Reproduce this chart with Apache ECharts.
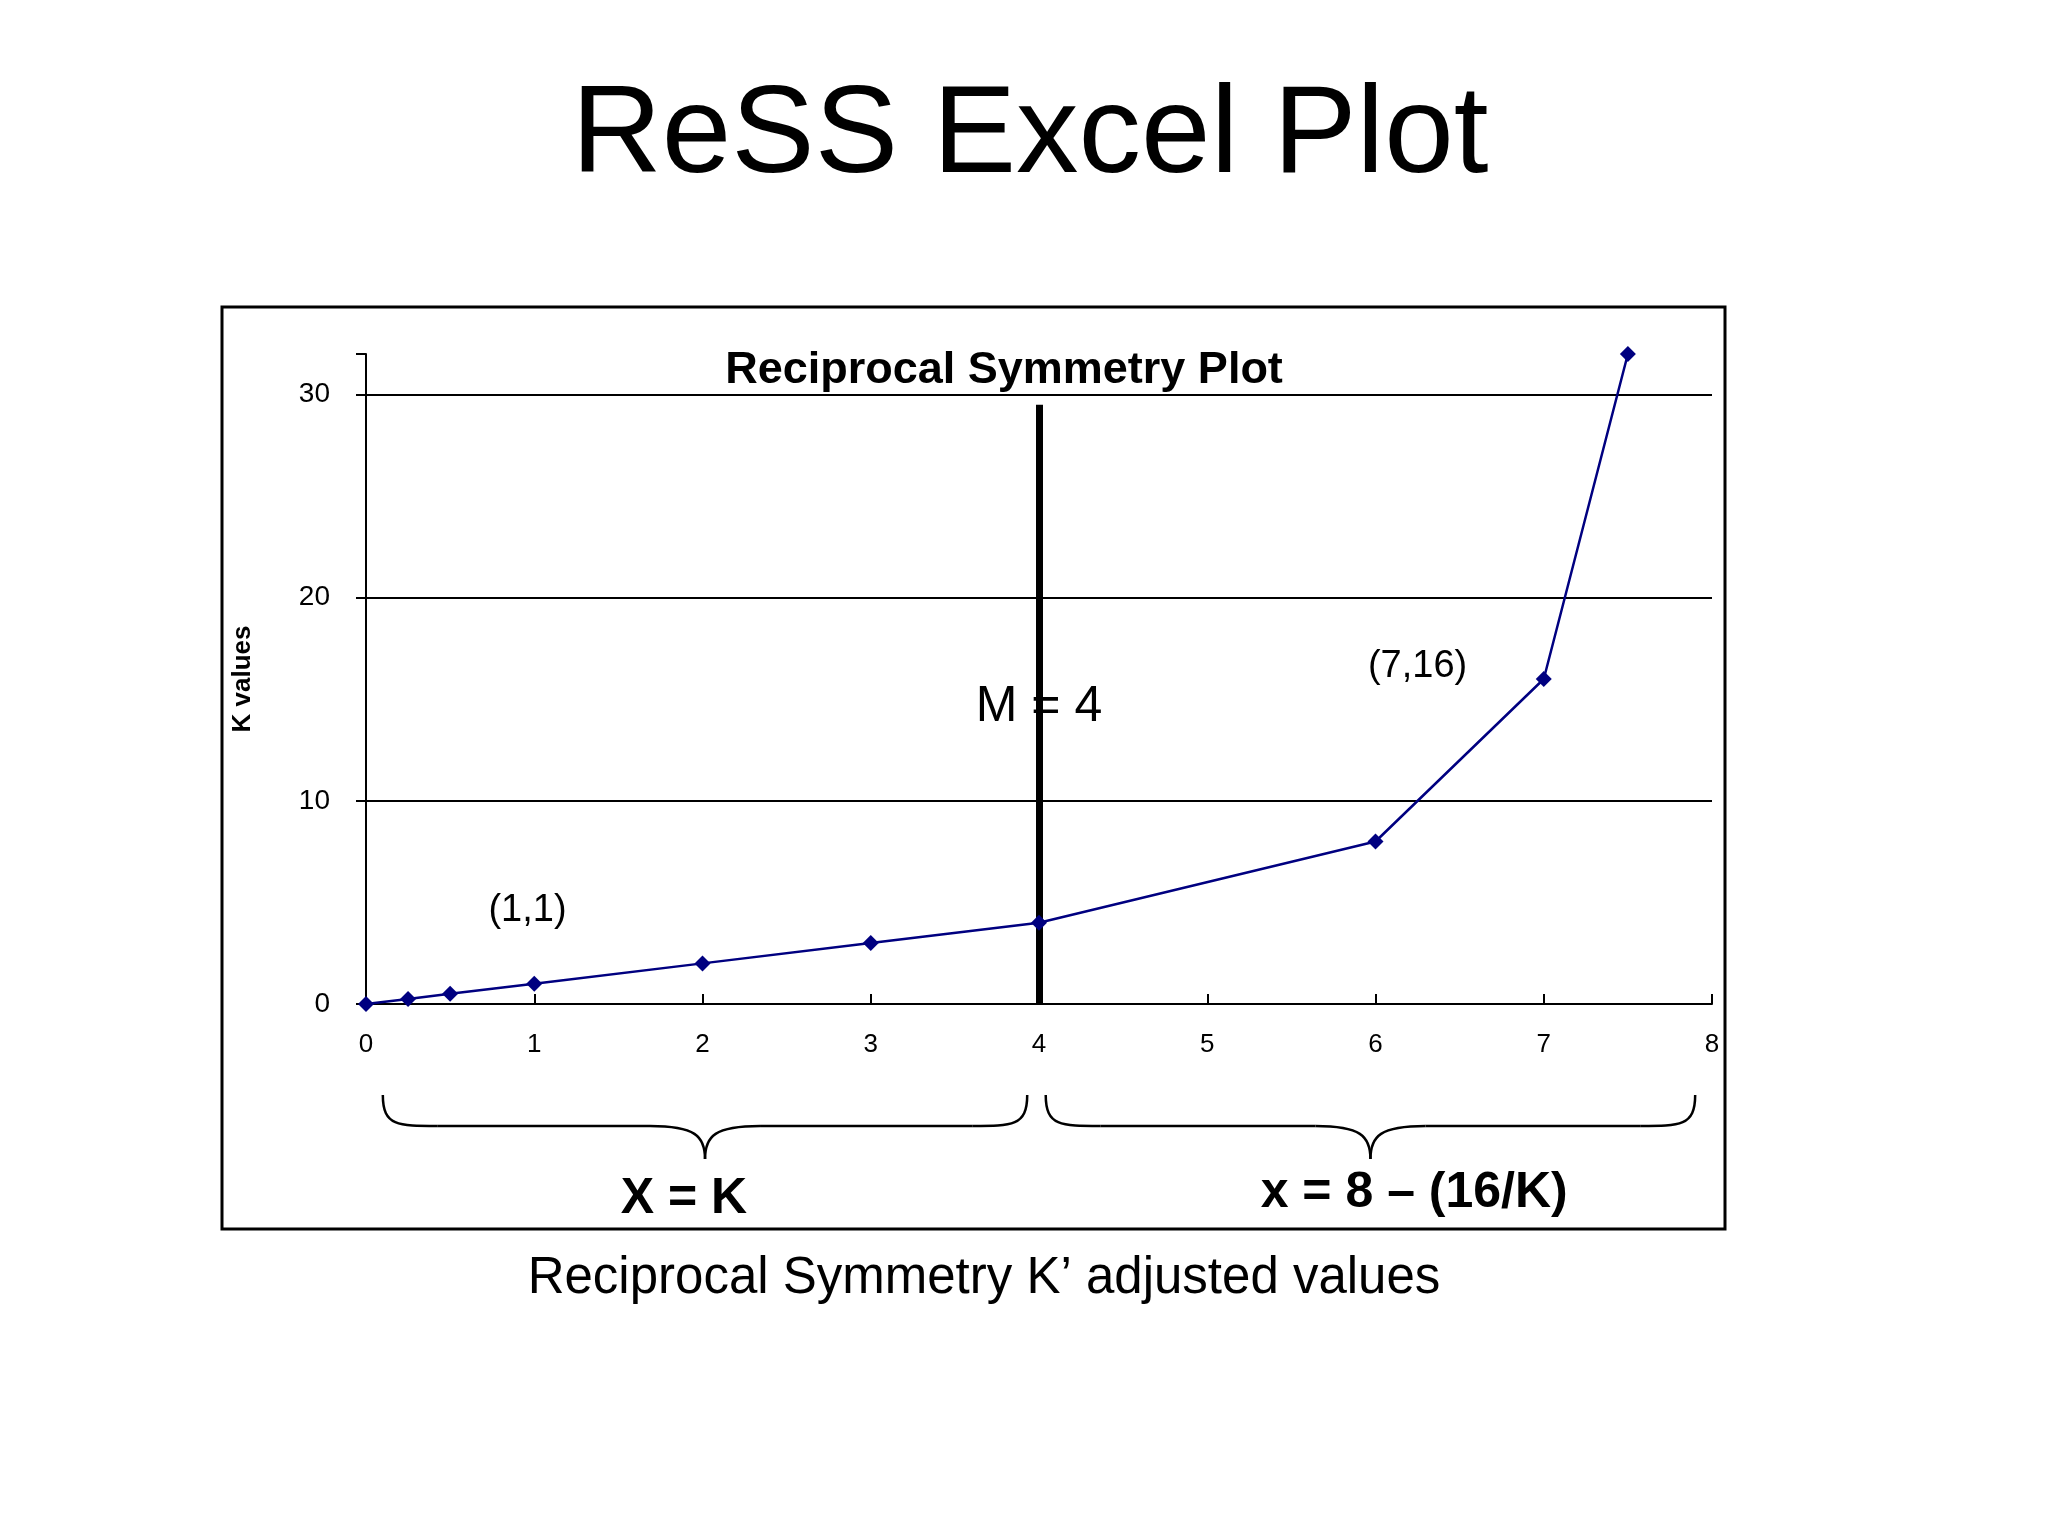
<!DOCTYPE html>
<html><head><meta charset="utf-8">
<script src="https://cdn.jsdelivr.net/npm/echarts@6/dist/echarts.min.js"></script>
<style>html,body{margin:0;background:#fff}#c{width:2048px;height:1536px}</style>
</head><body><div id="c"></div>
<script>
const xValues = [0, 0.25, 0.5, 1, 2, 3, 4, 6, 7, 7.5];
const kValues = [0, 0.25, 0.5, 1, 2, 3, 4, 8, 16, 32];
const gridLevels = [10, 20, 30];
const midX = 4, midTop = 29.5;
const annotations = [
  {text: '(1,1)', x: 0.96, y: 4.6, size: 38},
  {text: '(7,16)', x: 6.25, y: 16.6, size: 38},
  {text: 'M = 4', x: 4, y: 14.6, size: 50}
];
const F = '"Liberation Sans", Arial, sans-serif';
const chart = echarts.init(document.getElementById('c'));
const option = {
  backgroundColor: '#fff',
  animation: false,
  title: [
    {text: 'ReSS Excel Plot', left: 1025, top: 70, textAlign: 'center',
     textStyle: {fontFamily: F, fontSize: 125, fontWeight: 'normal', color: '#000'}},
    {text: 'Reciprocal Symmetry Plot', left: 999, top: 343, textAlign: 'center',
     textStyle: {fontFamily: F, fontSize: 45, fontWeight: 'bold', color: '#000'}},
    {text: 'Reciprocal Symmetry K’ adjusted values', left: 979, top: 1248, textAlign: 'center',
     textStyle: {fontFamily: F, fontSize: 51, fontWeight: 'normal', color: '#000'}}
  ],
  grid: {left: 366, right: 336, top: 354, bottom: 532},
  xAxis: {type: 'value', min: 0, max: 8, interval: 1,
    axisLine: {lineStyle: {color: '#000', width: 2}},
    axisTick: {show: true, length: 10, inside: true, lineStyle: {color: '#000', width: 2}},
    axisLabel: {margin: 28, fontFamily: F, fontSize: 26, color: '#000'},
    splitLine: {show: false}},
  yAxis: {type: 'value', min: 0, max: 32, interval: 10,
    name: 'K values', nameLocation: 'middle', nameGap: 110, nameRotate: 90,
    nameTextStyle: {fontFamily: F, fontSize: 26, fontWeight: 'bold', color: '#000'},
    axisLine: {show: true, lineStyle: {color: '#000', width: 2}},
    axisTick: {show: true, length: 10, lineStyle: {color: '#000', width: 2}},
    axisLabel: {margin: 36, fontFamily: F, fontSize: 28, color: '#000',
      formatter: v => (v % 10 === 0 ? String(v) : '')},
    splitLine: {show: false}},
  series: [{
    type: 'line', data: xValues.map((x, i) => [x, kValues[i]]),
    symbol: 'diamond', symbolSize: 16, z: 5,
    lineStyle: {color: '#000080', width: 2.5},
    itemStyle: {color: '#000080'},
    markLine: {silent: true, symbol: 'none', label: {show: false}, z: 1,
      data: gridLevels.map(v => ({yAxis: v, lineStyle: {color: '#000', width: 2, type: 'solid'}}))
        .concat([[{coord: [midX, 0], lineStyle: {color: '#000', width: 7, type: 'solid'}}, {coord: [midX, midTop]}]])
    }
  }]
};
chart.setOption(option);
const p = (x, y) => chart.convertToPixel({gridIndex: 0}, [x, y]);
const BS = {fill: 'none', stroke: '#000', lineWidth: 2.5};
function brace(x0, x1, y0) {
  const a = p(x0, 0)[0], b = p(x1, 0)[0], m = (a + b) / 2, y1 = y0 + 31, y2 = y0 + 64, d = 55;
  return [
    {type: 'bezierCurve', shape: {x1: a, y1: y0, cpx1: a, cpy1: y1, cpx2: a + 15, cpy2: y1, x2: a + d, y2: y1}, style: BS},
    {type: 'line', shape: {x1: a + d, y1: y1, x2: m - d, y2: y1}, style: BS},
    {type: 'bezierCurve', shape: {x1: m - d, y1: y1, cpx1: m - 10, cpy1: y1, cpx2: m, cpy2: y1 + 10, x2: m, y2: y2}, style: BS},
    {type: 'bezierCurve', shape: {x1: m, y1: y2, cpx1: m, cpy1: y1 + 10, cpx2: m + 10, cpy2: y1, x2: m + d, y2: y1}, style: BS},
    {type: 'line', shape: {x1: m + d, y1: y1, x2: b - d, y2: y1}, style: BS},
    {type: 'bezierCurve', shape: {x1: b - d, y1: y1, cpx1: b - 15, cpy1: y1, cpx2: b, cpy2: y1, x2: b, y2: y0}, style: BS}
  ];
}
const g = [
  {type: 'rect', shape: {x: 222, y: 307, width: 1503, height: 922}, style: {fill: 'none', stroke: '#000', lineWidth: 3}, silent: true, z: 0}
].concat(brace(0.1, 3.93, 1095), brace(4.04, 7.9, 1095),
  annotations.map(a => {const q = p(a.x, a.y); return {type: 'text', x: q[0], y: q[1], z: 100,
    style: {text: a.text, font: a.size + 'px ' + F, fill: '#000', textAlign: 'center', textVerticalAlign: 'middle'}};}),
  [
    {type: 'text', x: p(1.89, 0)[0], y: 1199, style: {text: 'X = K', font: 'bold 50px ' + F, fill: '#000', textAlign: 'center', textVerticalAlign: 'middle'}},
    {type: 'text', x: p(6.23, 0)[0], y: 1193, style: {text: 'x = 8 – (16/K)', font: 'bold 50px ' + F, fill: '#000', textAlign: 'center', textVerticalAlign: 'middle'}}
  ]);
chart.setOption({graphic: g});
</script></body></html>
